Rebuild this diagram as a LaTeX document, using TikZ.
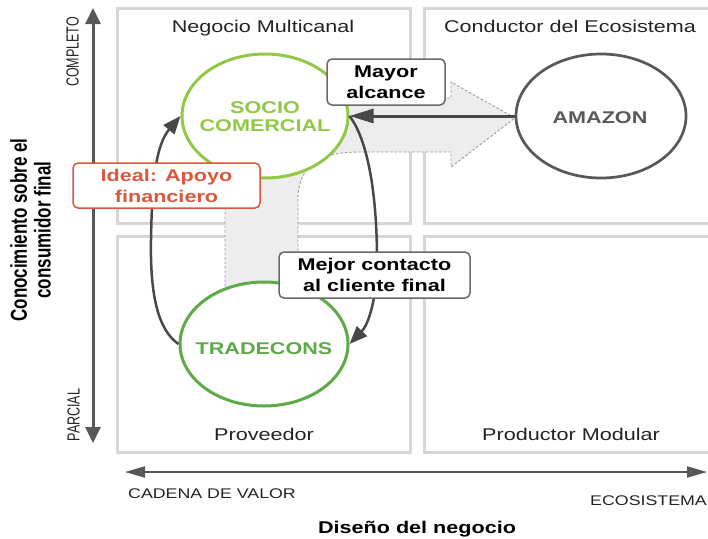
\documentclass[tikz,border=0pt]{standalone}
\usepackage{fontspec}
\setmainfont{Liberation Sans}[FakeStretch=1.27]
\newfontfamily\rotfont{Liberation Sans}
\usetikzlibrary{arrows.meta,shapes.geometric}
\definecolor{quad}{RGB}{214,214,214}
\definecolor{axisc}{RGB}{88,88,88}
\definecolor{lgreen}{RGB}{145,200,70}
\definecolor{dgreen}{RGB}{92,170,72}
\definecolor{redc}{RGB}{218,88,62}
\definecolor{boxc}{RGB}{105,105,105}
\definecolor{conc}{RGB}{72,72,72}
\definecolor{shade}{RGB}{237,237,237}
\definecolor{shadeb}{RGB}{155,155,155}
\definecolor{txt}{RGB}{35,35,35}
\begin{document}
\begin{tikzpicture}[x=1pt,y=-1pt,
  quadbox/.style={draw=quad,line width=3pt},
  vaxis/.style={draw=axisc,line width=3pt,{Triangle[length=16pt,width=15pt]}-{Triangle[length=16pt,width=15pt]}},
  haxis/.style={draw=axisc,line width=2pt,{Triangle[length=20pt,width=11pt]}-{Triangle[length=20pt,width=11pt]}},
  bigarrow/.style={fill=shade,draw=shadeb,line width=0.9pt,dash pattern=on 2.5pt off 2pt},
  ell/.style={ellipse,fill=white,line width=3pt,inner sep=0pt,minimum width=166pt,minimum height=124pt},
  circtext/.style={font=\fontsize{17}{18}\selectfont\bfseries,align=center,inner sep=0pt},
  conn/.style={draw=conc,line width=2.5pt,-{Triangle[length=18pt,width=14pt]}},
  hconn/.style={draw=conc,line width=3pt,-{Triangle[length=24pt,width=14pt]}},
  lbox/.style={draw=boxc,fill=white,rounded corners=5pt,line width=1.5pt,align=center,inner sep=0pt,text=black,font=\fontsize{17}{21}\selectfont\bfseries},
  qlabel/.style={font=\fontsize{17}{20}\selectfont,text=txt,inner sep=0pt,anchor=base},
  smalllabel/.style={font=\fontsize{14}{16}\selectfont,text=txt,inner sep=0pt},
  rotlabel/.style={rotate=90,inner sep=0pt,text=txt}
]
\useasboundingbox (0,0) rectangle (708,538);
\clip (0,0) rectangle (708,538);

% quadrants
\draw[quadbox] (117,8) rectangle (410,223);
\draw[quadbox] (424,8) rectangle (720,223);
\draw[quadbox] (117,236) rectangle (410,452);
\draw[quadbox] (424,236) rectangle (720,452);

% axes
\coordinate (ytop) at (93,8);
\coordinate (ybot) at (93,443);
\coordinate (xl) at (125,472);
\coordinate (xr) at (707,472);
\draw[vaxis] (ybot) -- (ytop);
\draw[haxis] (xl) -- (xr);

% big shaded arrow
\path[bigarrow] (225,300) -- (225,200) .. controls (225,130) and (270,98) .. (340,98)
  -- (451,98) -- (451,82) -- (515,118) -- (451,167) -- (451,152) -- (360,152)
  .. controls (320,152) and (298,165) .. (298,200) -- (298,300) -- cycle;

% ellipses
\node[ell,draw=lgreen] (socio) at (265,116) {};
\node[ell,draw=dgreen,minimum width=168pt] (trade) at (264,344) {};
\node[ell,draw=axisc,line width=2.7pt,minimum width=170pt] (amazon) at (601,116) {};

\node[circtext,text=lgreen] (sociot) at (265,117) {SOCIO\\COMERCIAL};
\node[circtext,text=dgreen,anchor=base] (tradet) at (264,354) {TRADECONS};
\node[circtext,text=axisc,anchor=base] (amazont) at (600,123) {AMAZON};

% connectors
\draw[hconn] (amazon.west) -- (socio.east);
\draw[conn] (socio.east) .. controls (368,140) and (377,195) .. (377,260)
  .. controls (377,300) and (368,325) .. (trade.east);
\draw[conn] (trade.west) .. controls (158,330) and (150,295) .. (151,240)
  .. controls (152,180) and (156,145) .. (socio.west);

% label boxes
\node[lbox,minimum width=118pt,minimum height=46pt] (mayor) at (386,82) {Mayor\\alcance};
\node[lbox,draw=redc,text=redc,minimum width=187pt,minimum height=45pt] (ideal) at (166.5,185.5) {Ideal: Apoyo\\financiero};
\node[lbox,minimum width=191pt,minimum height=46pt] (mejor) at (374.5,275) {Mejor contacto\\al cliente final};

% quadrant labels
\node[qlabel] (q1) at (263,32) {Negocio Multicanal};
\node[qlabel] (q2) at (570,32) {Conductor del Ecosistema};
\node[qlabel] (q3) at (264,440) {Proveedor};
\node[qlabel] (q4) at (571,440) {Productor Modular};

% axis labels
\node[smalllabel,anchor=base west] (cadena) at (128,498) {CADENA DE VALOR};
\node[smalllabel,anchor=base east] (eco) at (707,505) {ECOSISTEMA};
\node[qlabel,font=\fontsize{17}{20}\selectfont\bfseries,text=black] (diseno) at (417,533) {Diseño del negocio};
\node[rotlabel] (completo) at (72.5,52) {\rotfont\fontsize{12.5}{14}\selectfont\scalebox{1}[1.4]{COMPLETO}};
\node[rotlabel] (parcial) at (73.5,415) {\rotfont\fontsize{12.5}{14}\selectfont\scalebox{1}[1.4]{PARCIAL}};
\node[rotlabel,text=black] (conoc) at (34,230) {\rotfont\bfseries\fontsize{17}{17.7}\selectfont\scalebox{1}[1.35]{\begin{tabular}{@{}c@{}}Conocimiento sobre el\\consumidor final\end{tabular}}};
\end{tikzpicture}
\end{document}
